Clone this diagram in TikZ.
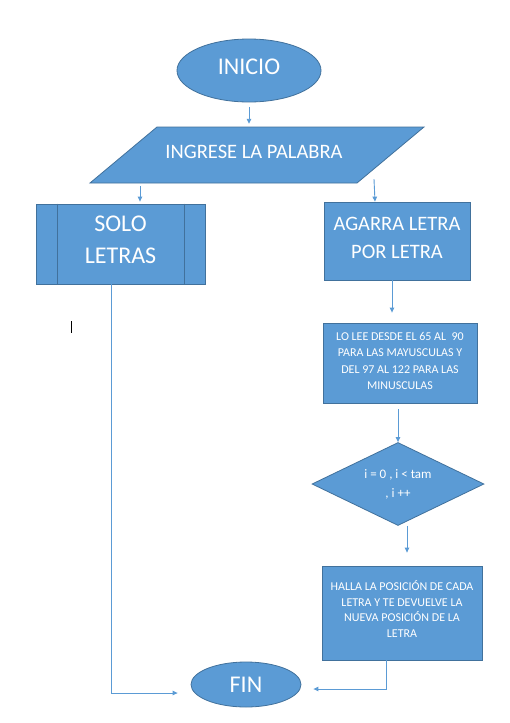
\documentclass[tikz,border=0pt]{standalone}
\usepackage{fontspec}
\setmainfont{Carlito}
\usetikzlibrary{shapes.geometric,arrows.meta}
\definecolor{fillb}{HTML}{5B9BD5}
\definecolor{edgeb}{HTML}{41719C}
\begin{document}
\begin{tikzpicture}[x=1pt,y=-1pt,
  shapebox/.style={fill=fillb,draw=edgeb,line width=0.8pt,text=white,inner sep=0pt,align=center},
  polyfill/.style={fill=fillb,draw=edgeb,line width=0.8pt},
  conn/.style={draw=fillb,line width=0.9pt,-{Triangle[length=5pt,width=4.5pt]}},
  bigtext/.style={font=\fontsize{24}{32}\selectfont},
  midtext/.style={font=\fontsize{20.5}{28}\selectfont},
  smalltext/.style={font=\fontsize{12}{16.5}\selectfont}]
\useasboundingbox[fill=white] (0,0) rectangle (509,723);
% INICIO
\node[shapebox,ellipse,minimum width=144pt,minimum height=63pt,bigtext,text depth=8pt] (inicio) at (249,70.5) {INICIO};
% input parallelogram
\draw[polyfill] (157,127) -- (424,127) -- (357,183) -- (90,183) -- cycle;
\node[inner sep=0pt,minimum width=334pt,minimum height=56pt,text=white,midtext,text depth=6pt] (inp) at (254,155) {INGRESE LA PALABRA};
% SOLO LETRAS
\node[shapebox,rectangle,minimum width=169pt,minimum height=80pt,bigtext,text depth=8pt] (solo) at (120.5,244) {SOLO\\LETRAS};
\draw[draw=edgeb,line width=0.8pt] ([xshift=22pt]solo.north west) -- ([xshift=22pt]solo.south west);
\draw[draw=edgeb,line width=0.8pt] ([xshift=-21pt]solo.north east) -- ([xshift=-21pt]solo.south east);
% AGARRA
\node[shapebox,rectangle,minimum width=146pt,minimum height=78pt,midtext,text depth=6pt] (agarra) at (397,241) {AGARRA LETRA\\POR LETRA};
% LO LEE
\node[shapebox,rectangle,minimum width=154pt,minimum height=80pt,smalltext,text depth=4pt] (lolee) at (400,363) {LO LEE DESDE EL 65 AL\ \ 90\\PARA LAS MAYUSCULAS Y\\DEL 97 AL 122 PARA LAS\\MINUSCULAS};
% diamond
\node[shapebox,diamond,aspect=2.07,minimum width=172pt,minimum height=83pt,font=\fontsize{13}{19}\selectfont] (diam) at (398,484) {i = 0 , i < tam\\, i ++};
% HALLA
\node[shapebox,rectangle,minimum width=160pt,minimum height=94pt,font=\fontsize{12}{15.7}\selectfont,text depth=8pt] (halla) at (402,613) {HALLA LA POSICIÓN DE CADA\\LETRA Y TE DEVUELVE LA\\NUEVA POSICIÓN DE LA\\LETRA};
% FIN
\node[shapebox,ellipse,minimum width=110pt,minimum height=45pt,bigtext] (fin) at (246,684.5) {FIN};
% connectors
\draw[conn,shorten <=4.5pt,shorten >=3pt] (inicio.south) -- (inicio.south |- inp.north);
\draw[conn,shorten <=3pt,shorten >=2pt] ([xshift=-114pt]inp.south) -- ([xshift=19.5pt]solo.north);
\draw[conn] ([xshift=120pt,yshift=4pt]inp.south) -- ([xshift=-22pt]agarra.north);
\draw[conn] ([xshift=-9pt]solo.south) |- ([xshift=-13pt,yshift=-8.5pt]fin.west);
\draw[conn,shorten >=10pt] ([xshift=-5pt]agarra.south) -- ([xshift=-8pt]lolee.north);
\draw[conn,shorten <=6pt] (lolee.south -| diam.north) -- (diam.north);
\draw[conn,shorten >=13pt] ([xshift=9pt]diam.south) -- ([xshift=5pt]halla.north);
\draw[conn] ([xshift=-16pt]halla.south) |- ([xshift=12pt,yshift=-4.5pt]fin.east);
% text cursor mark
\draw[black,line width=0.9pt] (71,321) -- (71,333);
\end{tikzpicture}
\end{document}
